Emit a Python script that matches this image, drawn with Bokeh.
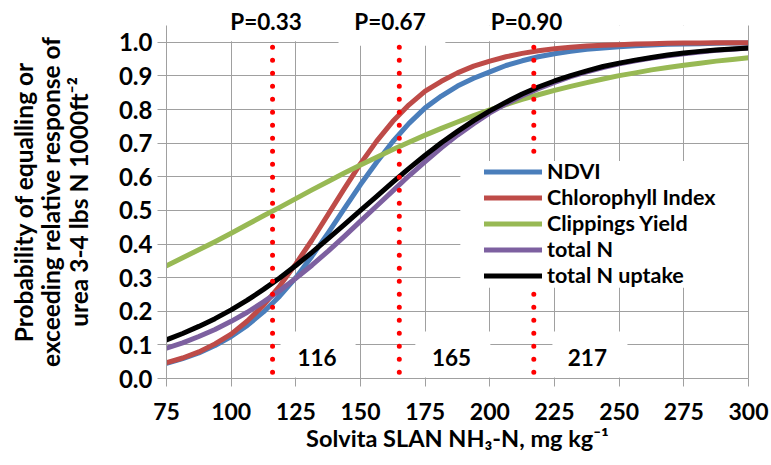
from bokeh.plotting import figure
from bokeh.models import (Range1d, FixedTicker, NumeralTickFormatter, LinearAxis,
                          Legend, LegendItem, ColumnDataSource)
from bokeh.embed import file_html
from bokeh.resources import INLINE
from bokeh.core.properties import value

# ---------------- data ----------------
x_vals = [75, 81.25, 87.5, 93.75, 100, 106.25, 112.5, 118.75, 125, 131.25, 137.5,
          143.75, 150, 156.25, 162.5, 168.75, 175, 181.25, 187.5, 193.75, 200,
          206.25, 212.5, 218.75, 225, 231.25, 237.5, 243.75, 250, 256.25, 262.5,
          268.75, 275, 281.25, 287.5, 293.75, 300]
ndvi = [0.045, 0.059, 0.076, 0.098, 0.125, 0.158, 0.198, 0.245, 0.300, 0.364, 0.433,
        0.505, 0.577, 0.643, 0.705, 0.759, 0.805, 0.840, 0.870, 0.893, 0.912,
        0.931, 0.945, 0.957, 0.966, 0.973, 0.979, 0.983, 0.987, 0.990, 0.992,
        0.994, 0.995, 0.996, 0.997, 0.998, 0.998]
chlorophyll = [0.047, 0.061, 0.079, 0.103, 0.132, 0.171, 0.218, 0.275, 0.341, 0.412, 0.488,
               0.565, 0.639, 0.706, 0.765, 0.814, 0.855, 0.884, 0.909, 0.929, 0.944,
               0.957, 0.967, 0.975, 0.981, 0.985, 0.989, 0.991, 0.993, 0.995, 0.996,
               0.997, 0.998, 0.998, 0.999, 0.999, 0.999]
clippings = [0.335, 0.359, 0.383, 0.407, 0.432, 0.458, 0.484, 0.509, 0.535, 0.561, 0.586,
             0.611, 0.635, 0.658, 0.681, 0.703, 0.724, 0.744, 0.763, 0.782, 0.799,
             0.815, 0.830, 0.844, 0.857, 0.869, 0.880, 0.891, 0.901, 0.909, 0.918,
             0.925, 0.932, 0.938, 0.944, 0.949, 0.954]
total_n = [0.090, 0.106, 0.125, 0.146, 0.170, 0.197, 0.228, 0.261, 0.298, 0.337, 0.379,
           0.423, 0.468, 0.513, 0.558, 0.603, 0.645, 0.686, 0.724, 0.758, 0.790,
           0.817, 0.841, 0.862, 0.881, 0.898, 0.912, 0.925, 0.936, 0.945, 0.953,
           0.960, 0.966, 0.971, 0.976, 0.979, 0.983]
total_n_uptake = [0.115, 0.134, 0.155, 0.178, 0.204, 0.233, 0.265, 0.299, 0.336, 0.375, 0.416,
                  0.458, 0.500, 0.542, 0.584, 0.625, 0.664, 0.701, 0.735, 0.767, 0.796,
                  0.822, 0.846, 0.867, 0.885, 0.901, 0.915, 0.928, 0.938, 0.947, 0.955,
                  0.962, 0.968, 0.973, 0.977, 0.980, 0.983]

series_names = ["NDVI", "Chlorophyll Index", "Clippings Yield", "total N", "total N uptake"]
series_values = [ndvi, chlorophyll, clippings, total_n, total_n_uptake]
series_colors = ["#4A7EBB", "#BE4B48", "#98B954", "#7D60A0", "#000000"]

thresholds = [116, 165, 217]
p_labels = ["P=0.33", "P=0.67", "P=0.90"]
threshold_labels = ["116", "165", "217"]

x_ticks = [75, 100, 125, 150, 175, 200, 225, 250, 275, 300]
y_ticks = [0.0, 0.1, 0.2, 0.3, 0.4, 0.5, 0.6, 0.7, 0.8, 0.9, 1.0]

# ---------------- layout / style constants ----------------
FONT = "Lato"
GRID = "#a0a0a0"
Y_TOP = 1.05
P_LABEL_X = [113.5, 161.4, 214.2]
VAL_LABEL_X = [133.2, 185.2, 237.7]
VAL_LABEL_Y = 0.062
BOX_LEFT = [119.1, 171.2, 224.2]
BOX_W = 29.0

p = figure(width=771, height=465, x_range=Range1d(75, 300), y_range=Range1d(0, Y_TOP),
           output_backend="svg", toolbar_location=None,
           min_border_left=166, min_border_right=23, min_border_top=25, min_border_bottom=87)
p.outline_line_color = None
p.background_fill_color = "white"
p.border_fill_color = "white"

# grid
p.xgrid.ticker = FixedTicker(ticks=x_ticks)
p.ygrid.ticker = FixedTicker(ticks=y_ticks)
for g in (p.xgrid, p.ygrid):
    g.grid_line_color = GRID
    g.grid_line_width = 1

# axes
xa = p.xaxis[0]
xa.ticker = FixedTicker(ticks=x_ticks)
xa.axis_label = "Solvita SLAN NH\u2083-N, mg kg\u207b\u00b9"
ya = p.yaxis[0]
ya.ticker = FixedTicker(ticks=y_ticks)
ya.formatter = NumeralTickFormatter(format="0.0")
ya.axis_label = "Probability of equalling or\nexceeding relative response of\nurea 3-4 lbs N 1000ft\u207b\u00b2"
for ax, tick_out, stand, fsize in ((xa, 8, 16, "23px"), (ya, 9, 5, "24px")):
    ax.axis_line_color = GRID
    ax.major_tick_line_color = GRID
    ax.major_tick_out = tick_out
    ax.major_tick_in = 0
    ax.minor_tick_line_color = None
    ax.major_label_text_font = FONT
    ax.major_label_text_font_size = fsize
    ax.major_label_text_font_style = "bold"
    ax.major_label_text_color = "black"
    ax.major_label_standoff = stand
    ax.axis_label_text_font = FONT
    ax.axis_label_text_font_style = "bold"
    ax.axis_label_text_color = "black"
xa.axis_label_text_font_size = "23.5px"
xa.axis_label_standoff = 1
ya.axis_label_text_font_size = "24.5px"
ya.axis_label_standoff = 23
ya.axis_label_text_line_height = 0.95

right = LinearAxis(ticker=FixedTicker(ticks=[]),
                   major_label_text_font_size="0px", major_label_standoff=0,
                   axis_line_color=GRID, major_tick_line_color=None, minor_tick_line_color=None)
p.add_layout(right, "right")

# P labels as an axis above the plot
top_axis = LinearAxis(ticker=FixedTicker(ticks=P_LABEL_X),
                      major_label_overrides={lx: t for lx, t in zip(P_LABEL_X, p_labels)},
                      axis_line_color=None, major_tick_line_color=None,
                      minor_tick_line_color=None, major_tick_out=0, major_tick_in=0,
                      major_label_standoff=-9, major_label_text_font=FONT,
                      major_label_text_font_size="22.5px", major_label_text_font_style="bold",
                      major_label_text_color="black")
p.add_layout(top_axis, "above")

# white area between 1.0 and the top of the plot (text boxes of the P labels)
p.quad(left=[75, 141.5], right=[300, 182.8], bottom=[1.003, 0.99], top=[Y_TOP, 1.01],
       fill_color="white", line_color=None)

# curves
renderers = []
for name, vals, col in zip(series_names, series_values, series_colors):
    src = ColumnDataSource(dict(x=x_vals, y=vals))
    r = p.line("x", "y", source=src, line_color=col, line_width=5, line_cap="round",
               line_join="round")
    renderers.append(r)

# red dotted threshold lines
p.segment(x0=thresholds, y0=[0.985] * len(thresholds), x1=thresholds, y1=[0] * len(thresholds),
          line_color="#FF0000", line_width=5, line_dash="0 13", line_cap="round")

# white boxes (legend area and value labels)
p.quad(left=[188.6] + BOX_LEFT, right=[300] + [b + BOX_W for b in BOX_LEFT],
       bottom=[0.27] + [0.003] * 3, top=[0.647] + [0.14] * 3,
       fill_color="white", line_color=None)

# value labels
p.text(x=VAL_LABEL_X, y=[VAL_LABEL_Y] * 3, text=threshold_labels, text_font=value(FONT),
       text_font_size="22.5px", text_font_style="bold", text_align="center",
       text_baseline="middle", text_color="black")

legend = Legend(items=[LegendItem(label=n, renderers=[r]) for n, r in zip(series_names, renderers)],
                location=(318, 90), label_text_font=FONT, label_text_font_size="21.5px",
                label_text_font_style="bold", label_text_color="black",
                label_text_line_height=1.0,
                glyph_width=58, glyph_height=25, label_height=25, label_standoff=5,
                spacing=0, padding=3, margin=0, background_fill_alpha=0,
                border_line_color=None)
p.add_layout(legend)

open("out.html", "w").write(file_html(p, INLINE))
